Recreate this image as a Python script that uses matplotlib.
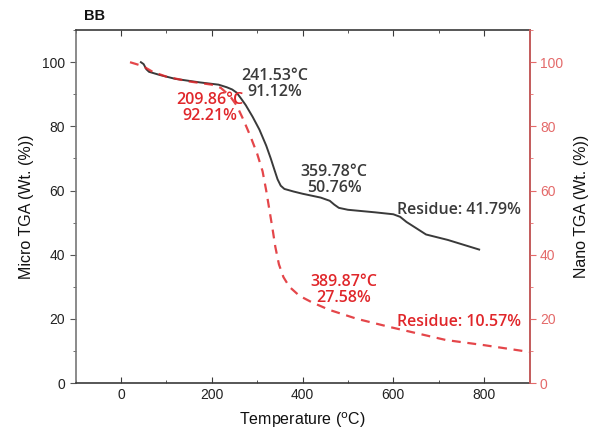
import matplotlib.pyplot as plt
from matplotlib.ticker import MultipleLocator

# micro TGA (solid, left axis)
micro_temp = [44, 50, 56, 62, 86, 120, 174, 215, 233, 245, 255, 265, 275, 290, 305, 320, 330, 338, 345,
              352, 360, 380, 400, 440, 460, 470, 480, 500, 560, 600, 615, 629, 650, 672, 720, 789]
micro_wt = [100, 99.4, 97.8, 97.0, 96.0, 94.8, 93.7, 93.0, 92.2, 91.5, 90.5, 88.6, 86.6, 83.0, 79.0, 74.0,
            70.0, 66.5, 63.5, 61.5, 60.5, 59.7, 59.0, 57.8, 56.8, 55.6, 54.6, 54.0, 53.2, 52.6, 51.8, 50.2,
            48.3, 46.3, 44.6, 41.6]

# nano TGA (dashed, right axis)
nano_temp = [20, 48, 70, 100, 150, 200, 220, 240, 255, 270, 285, 300, 312, 320, 327, 334, 340, 348, 358,
             371, 393, 420, 459, 520, 591, 716, 800, 899]
nano_wt = [100, 98.8, 97.0, 95.5, 94.0, 93.0, 92.0, 89.5, 86.5, 82.0, 77.0, 71.5, 66.0, 60.0, 54.0, 48.0,
           42.5, 37.0, 33.0, 30.0, 27.2, 25.2, 22.8, 20.0, 17.5, 13.4, 11.8, 9.7]

black = "#3a3a3a"
red = "#e0262a"
red_tick = "#e46a6a"

fig = plt.figure(figsize=(5.97, 4.43), dpi=100)
ax = fig.add_axes([0.1265, 0.1354, 0.7605, 0.7966])
ax2 = ax.twinx()

ax.plot(micro_temp, micro_wt, color=black, lw=1.4)
ax2.plot(nano_temp, nano_wt, color=red, lw=1.6, ls=(0, (4, 3)), alpha=0.85)

for a in (ax, ax2):
    a.set_xlim(-100, 900)
    a.set_ylim(0, 110)

ax.xaxis.set_major_locator(MultipleLocator(200))
ax.xaxis.set_minor_locator(MultipleLocator(100))
ax.yaxis.set_major_locator(MultipleLocator(20))
ax.yaxis.set_minor_locator(MultipleLocator(10))
ax2.yaxis.set_major_locator(MultipleLocator(20))
ax2.yaxis.set_minor_locator(MultipleLocator(10))

ax.tick_params(axis="x", which="both", direction="in", top=True, colors=black, labelsize=10)
ax.tick_params(axis="x", which="major", length=4)
ax.tick_params(axis="x", which="minor", length=2.5)
ax.tick_params(axis="y", which="major", direction="out", length=4, colors="#555555", labelsize=10)
ax.tick_params(axis="y", which="minor", direction="out", length=2.5, colors="#555555")
ax2.tick_params(axis="y", which="major", direction="out", length=4, colors=red_tick, labelsize=10)
ax2.tick_params(axis="y", which="minor", direction="out", length=2.5, colors=red_tick)
for lab in ax.get_xticklabels() + ax.get_yticklabels() + ax2.get_yticklabels():
    lab.set_fontfamily("Liberation Sans")
for lab in ax.get_xticklabels() + ax.get_yticklabels():
    lab.set_color("#222222")

ax.spines["left"].set_color("#777777")
ax.spines["bottom"].set_color(black)
ax.spines["top"].set_color(black)
ax2.spines["right"].set_color(red_tick)
ax2.spines["left"].set_visible(False)
ax2.spines["top"].set_visible(False)
ax2.spines["bottom"].set_visible(False)
for s in ax.spines.values():
    s.set_linewidth(1.2)
ax2.spines["right"].set_linewidth(1.2)

label_font = dict(family="Liberation Sans", size=11.5, color="#111111")
ax.set_xlabel("Temperature ($^{\\mathrm{o}}$C)", labelpad=6, **label_font)
ax.set_ylabel("Micro TGA (Wt. (%))", labelpad=6, **label_font)
ax2.set_ylabel("Nano TGA (Wt. (%))", labelpad=8, **label_font)

ann = dict(family="Open Sans", size=11.5, fontweight="semibold", ha="center", va="center", linespacing=1.0)
ax.text(338, 93.2, "241.53\u00b0C\n91.12%", color=black, **ann)
ax.text(196, 85.7, "209.86\u00b0C\n92.21%", color=red, **ann)
ax.text(470, 63.3, "359.78\u00b0C\n50.76%", color=black, **ann)
ax.text(745, 54, "Residue: 41.79%", color=black, **ann)
ax.text(490, 29.0, "389.87\u00b0C\n27.58%", color=red, **ann)
ax.text(745, 19, "Residue: 10.57%", color=red, **ann)

fig.text(0.14, 0.965, "BB", family="Liberation Sans", size=10.5, fontweight="bold",
         color="#111111", va="center")

fig.savefig("out.png", dpi=100)
